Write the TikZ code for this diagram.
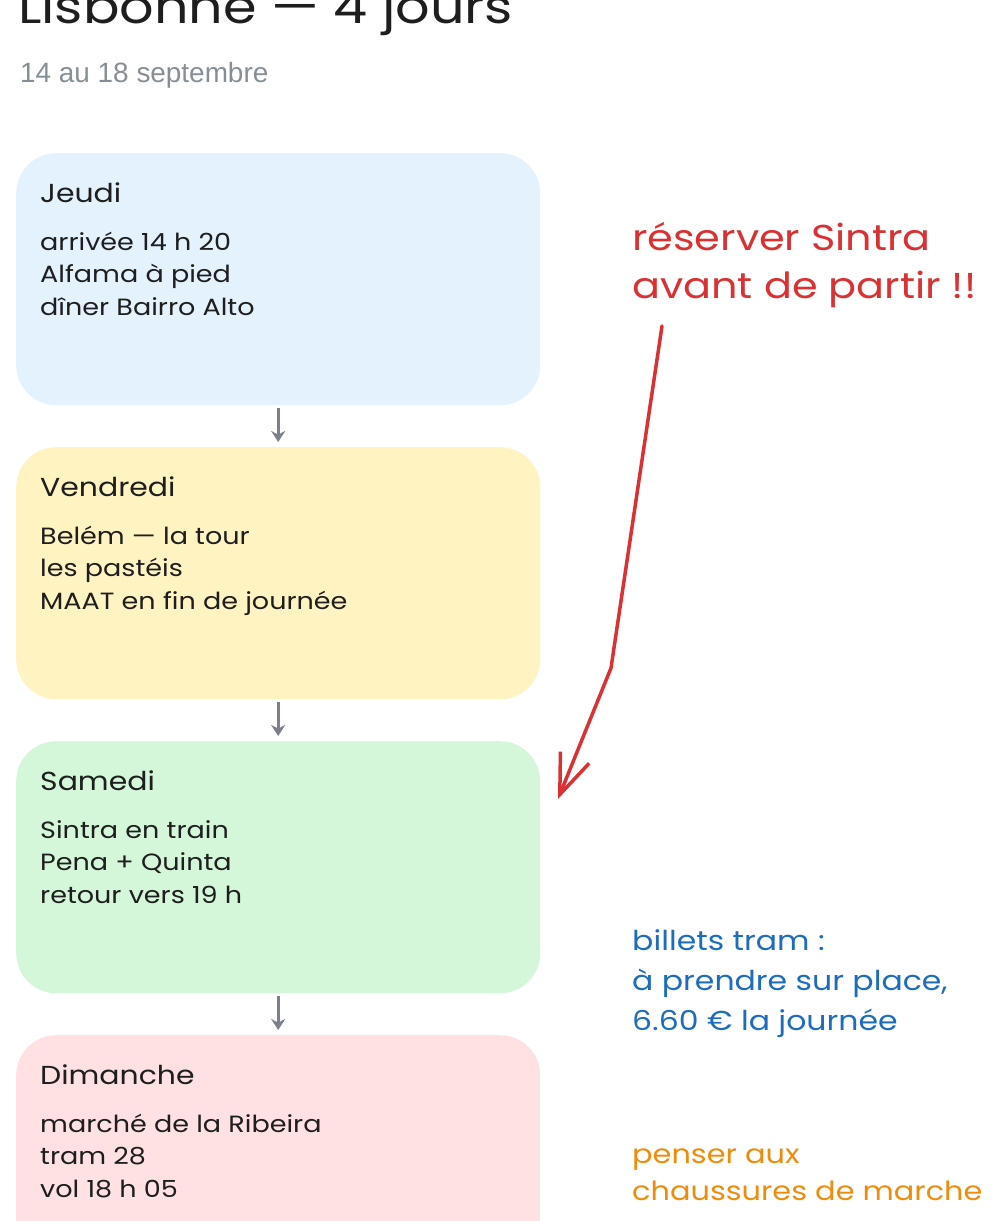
\documentclass[tikz,border=0pt]{standalone}
\usepackage{fontspec}
\setmainfont[FakeStretch=1.15]{Poppins}
\newfontfamily\subfont{Liberation Sans}
\usetikzlibrary{arrows.meta}
\definecolor{ink}{HTML}{1E1E1E}
\definecolor{subgray}{HTML}{868E96}
\definecolor{arrgray}{HTML}{7B808A}
\definecolor{fblue}{HTML}{E3F2FD}
\definecolor{fyellow}{HTML}{FFF3C2}
\definecolor{fgreen}{HTML}{D3F7D8}
\definecolor{fpink}{HTML}{FFE1E3}
\definecolor{nred}{HTML}{DC3132}
\definecolor{nblue}{HTML}{1C6DBF}
\definecolor{norange}{HTML}{EE8C0C}
\tikzset{
  x=1pt, y=-1pt,
  daybox/.style={draw=none, rounded corners=40pt, minimum width=524pt, minimum height=252pt, anchor=north west, inner sep=0pt},
  dayhead/.style={anchor=base west, inner sep=0pt, text=ink, font=\fontsize{26}{30}\selectfont},
  dayline/.style={anchor=base west, inner sep=0pt, text=ink, font=\fontsize{23.5}{28}\selectfont},
  flow/.style={draw=arrgray, line width=3.2pt, -{Stealth[length=11pt,width=14pt]}, shorten <=3pt, shorten >=5pt},
  notered/.style={anchor=base west, inner sep=0pt, text=nred, font=\fontsize{36}{40}\selectfont},
  noteblue/.style={anchor=base west, inner sep=0pt, text=nblue, font=\fontsize{27.4}{32}\selectfont},
  noteorange/.style={anchor=base west, inner sep=0pt, text=norange, font=\fontsize{26.4}{32}\selectfont},
}
\begin{document}
\begin{tikzpicture}
\useasboundingbox (0,0) rectangle (1000,1221);
\clip (0,0) rectangle (1000,1221);
% title
\node[anchor=base west, inner sep=0pt, text=ink, font=\fontsize{47}{50}\selectfont] (title) at (18,23) {Lisbonne — 4 jours};
\node[anchor=base west, inner sep=0pt, text=subgray, font=\subfont\fontsize{27.9}{30}\selectfont] (sub) at (20,82) {14 au 18 septembre};
% boxes
\node[daybox, fill=fblue] (b1) at (16,153) {};
\node[daybox, fill=fyellow] (b2) at (16,447) {};
\node[daybox, fill=fgreen] (b3) at (16,741) {};
\node[daybox, fill=fpink] (b4) at (16,1035) {};
% box texts
\node[dayhead] (h1) at (40,202) {Jeudi};
\node[dayline] (l11) at (40,250) {arrivée 14 h 20};
\node[dayline] (l12) at (40,282) {Alfama à pied};
\node[dayline] (l13) at (40,315) {dîner Bairro Alto};
\node[dayhead] (h2) at (40,496) {Vendredi};
\node[dayline] (l21) at (40,544) {Belém — la tour};
\node[dayline] (l22) at (40,576) {les pastéis};
\node[dayline] (l23) at (40,609) {MAAT en fin de journée};
\node[dayhead] (h3) at (40,790) {Samedi};
\node[dayline] (l31) at (40,838) {Sintra en train};
\node[dayline] (l32) at (40,870) {Pena + Quinta};
\node[dayline] (l33) at (40,903) {retour vers 19 h};
\node[dayhead] (h4) at (40,1084) {Dimanche};
\node[dayline] (l41) at (40,1132) {marché de la Ribeira};
\node[dayline] (l42) at (40,1164) {tram 28};
\node[dayline] (l43) at (40,1197) {vol 18 h 05};
% flow arrows
\draw[flow] (b1.south) -- (b2.north);
\draw[flow] (b2.south) -- (b3.north);
\draw[flow] (b3.south) -- (b4.north);
% notes
\node[notered] (r1) at (632,250) {réserver Sintra};
\node[notered] (r2) at (632,298) {avant de partir !!};
\node[noteblue] (u1) at (632,950) {billets tram :};
\node[noteblue] (u2) at (632,990) {à prendre sur place,};
\node[noteblue] (u3) at (632,1030) {6.60 € la journée};
\node[noteorange] (o1) at (632,1163) {penser aux};
\node[noteorange] (o2) at (632,1200) {chaussures de marche};
% red arrow
\coordinate (rs) at (662,326);
\coordinate (rb) at (611,668);
\coordinate (rt) at (558,799);
\draw[nred, line width=3.5pt, line cap=round, line join=round, -{Straight Barb[length=40pt,width=31pt,line width=3.5pt]}] (rs) -- (rb) -- (rt);
\end{tikzpicture}
\end{document}
